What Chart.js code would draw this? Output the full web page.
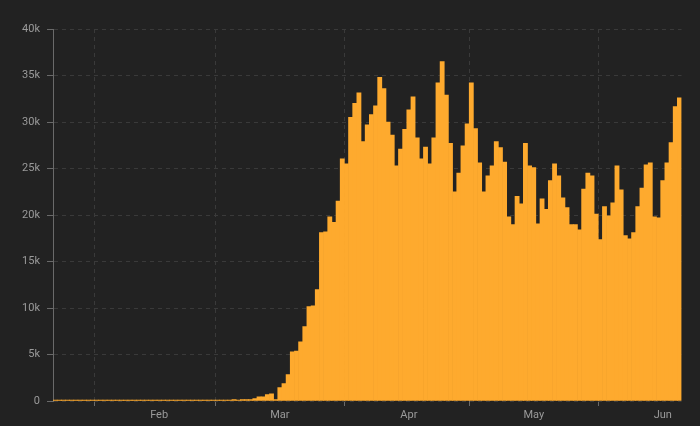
<!DOCTYPE html>
<html>
<head>
<meta charset="utf-8">
<script src="https://cdn.jsdelivr.net/npm/chart.js@4.4.1/dist/chart.umd.min.js"></script>
<style>
  html, body { margin: 0; padding: 0; background: #222222; }
  #wrap { position: relative; width: 700px; height: 426px; }
</style>
</head>
<body>
<div id="wrap"><canvas id="chart"></canvas></div>
<script>
// daily new cases, 2020 (Jan 22 - Jun 20)
const monthNames = ['Jan', 'Feb', 'Mar', 'Apr', 'May', 'Jun'];
const firstDay = [22, 1, 1, 1, 1, 1];

const janCases = [1, 0, 1, 0, 3, 0, 0, 0, 1, 1];
const febCases = [1, 0, 3, 0, 0, 0, 0, 0, 0, 1, 0, 1, 0, 1, 0, 0, 0, 0, 0, 0, 2, 0, 0, 0, 14, 0, 1, 1, 5];
const marCases = [10, 20, 25, 30, 160, 60, 150, 150, 150, 270, 460, 460, 680, 780, 160, 1430,
  1860, 2830, 5280, 5380, 6370, 8000, 10140, 10240, 11970, 18100, 18200, 19800, 19200, 21500, 26050];
const aprCases = [25500, 30500, 32000, 33150, 27900, 29700, 30800, 31750, 34800, 33600, 30000,
  28600, 25300, 27100, 29200, 31300, 32700, 28300, 26050, 27300, 25500, 28300, 34200, 36500,
  32900, 27700, 22500, 24500, 27450, 29800];
const mayCases = [34200, 29300, 25600, 22500, 24200, 25300, 27900, 27250, 25700, 19800, 18960,
  22000, 21200, 27700, 25300, 25100, 19050, 21750, 20600, 23700, 25500, 24200, 21850, 20800,
  18960, 18960, 18400, 22800, 24500, 24200, 20100];
const junCases = [17350, 20900, 19900, 21300, 25300, 22700, 17800, 17450, 18100, 20900, 22900,
  25400, 25600, 19800, 19700, 23700, 25600, 27800, 31650, 32600];

const monthCases = [janCases, febCases, marCases, aprCases, mayCases, junCases];
const labelDay = 16; // month name shown under this day

const labels = [];
const cases = [];
monthCases.forEach((arr, m) => {
  arr.forEach((v, d) => {
    labels.push(monthNames[m] + ' ' + (firstDay[m] + d));
    cases.push(v);
  });
});

const isMonthStart = (i) => i > 0 && i < labels.length && labels[i].endsWith(' 1');

Chart.defaults.font.family = 'Roboto, "DejaVu Sans", sans-serif';
Chart.defaults.font.size = 11;

const ctx = document.getElementById('chart').getContext('2d');
new Chart(ctx, {
  type: 'bar',
  data: {
    labels: labels,
    datasets: [
      {
        label: 'Cases',
        data: cases,
        backgroundColor: '#FEAA2E',
        borderWidth: 0,
        barPercentage: 1,
        categoryPercentage: 1,
        minBarLength: 1,
      },
    ],
  },
  options: {
    responsive: true,
    maintainAspectRatio: false,
    animation: false,
    layout: { padding: { top: 29, right: 18.5, left: 0, bottom: 0 } },
    scales: {
      x: {
        offset: true,
        grid: {
          offset: true,
          color: (c) => (isMonthStart(c.index) ? '#3a3a3a' : 'transparent'),
          tickColor: (c) => (isMonthStart(c.index) ? '#6a6a6a' : 'transparent'),
          tickLength: 5,
        },
        border: { display: false, dash: [4, 4] },
        ticks: {
          autoSkip: false,
          maxRotation: 0,
          minRotation: 0,
          padding: 3,
          color: '#9a9a9a',
          callback: function (value, index) {
            const parts = labels[index].split(' ');
            return parts[1] === String(labelDay) ? parts[0] : '';
          },
        },
        afterFit: (s) => { s.height = 25; },
      },
      y: {
        min: 0,
        max: 40000,
        grid: { color: '#3a3a3a', tickColor: '#6a6a6a', tickLength: 6 },
        border: { display: true, color: '#6a6a6a', dash: [4, 4] },
        ticks: {
          stepSize: 5000,
          padding: 7,
          color: '#9a9a9a',
          callback: function (value) {
            return value === 0 ? '0' : value / 1000 + 'k';
          },
        },
        afterFit: (s) => { s.width = 53; },
      },
    },
    plugins: {
      legend: { display: false },
      tooltip: { enabled: false },
    },
  },
});
</script>
</body>
</html>
